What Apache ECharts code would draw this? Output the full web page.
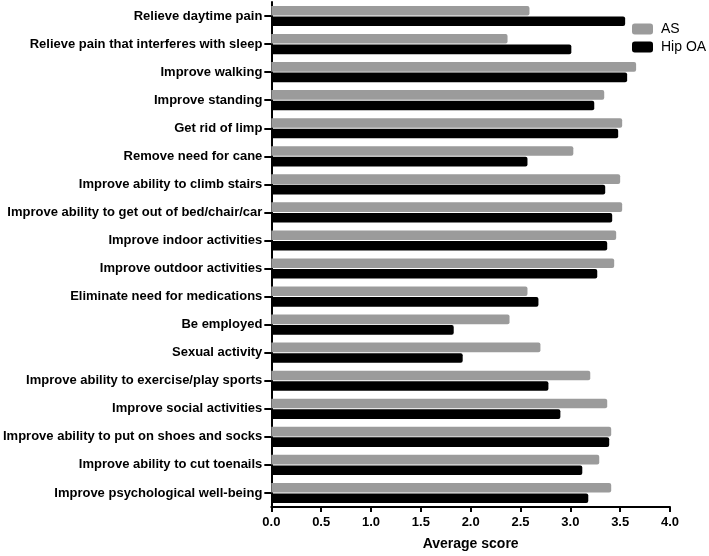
<!DOCTYPE html>
<html>
<head>
<meta charset="utf-8">
<script src="https://cdn.jsdelivr.net/npm/echarts@6/dist/echarts.min.js"></script>
<style>
html,body{margin:0;padding:0;background:#fff;}
#chart{width:709px;height:556px;}
</style>
</head>
<body>
<div id="chart"></div>
<script>
const categories = [
  "Relieve daytime pain",
  "Relieve pain that interferes with sleep",
  "Improve walking",
  "Improve standing",
  "Get rid of limp",
  "Remove need for cane",
  "Improve ability to climb stairs",
  "Improve ability to get out of bed/chair/car",
  "Improve indoor activities",
  "Improve outdoor activities",
  "Eliminate need for medications",
  "Be employed",
  "Sexual activity",
  "Improve ability to exercise/play sports",
  "Improve social activities",
  "Improve ability to put on shoes and socks",
  "Improve ability to cut toenails",
  "Improve psychological well-being"
];
const asValues = [2.59, 2.37, 3.66, 3.34, 3.52, 3.03, 3.50, 3.52, 3.46, 3.44, 2.57, 2.39, 2.70, 3.20, 3.37, 3.41, 3.29, 3.41];
const hipOaValues = [3.55, 3.01, 3.57, 3.24, 3.48, 2.57, 3.35, 3.42, 3.37, 3.27, 2.68, 1.83, 1.92, 2.78, 2.90, 3.39, 3.12, 3.18];
const xTicks = { min: 0, max: 4, interval: 0.5 };

const font = "'Liberation Sans', Arial, Helvetica, sans-serif";
const chart = echarts.init(document.getElementById('chart'), null, { renderer: 'canvas' });
chart.setOption({
  animation: false,
  backgroundColor: '#ffffff',
  textStyle: { fontFamily: font },
  legend: {
    orient: 'vertical',
    left: 632,
    top: 22,
    padding: 0,
    itemWidth: 21,
    itemHeight: 11,
    itemGap: 4,
    icon: 'roundRect',
    textStyle: { fontFamily: font, fontSize: 14, color: '#000', padding: [0, 0, 0, 3] },
    data: ['AS', 'Hip OA']
  },
  grid: { left: 270, right: 39, top: 2, bottom: 47, containLabel: false },
  xAxis: {
    type: 'value',
    min: xTicks.min,
    max: xTicks.max,
    interval: xTicks.interval,
    name: 'Average score',
    nameLocation: 'middle',
    nameGap: 30,
    nameTextStyle: { fontFamily: font, fontSize: 14, fontWeight: 'bold', color: '#000' },
    axisLine: { show: true, lineStyle: { color: '#000', width: 2 } },
    axisTick: { show: true, length: 5, lineStyle: { color: '#000', width: 2 } },
    axisLabel: {
      fontFamily: font, fontSize: 13, fontWeight: 'bold', color: '#000', margin: 9,
      formatter: v => v.toFixed(1)
    },
    splitLine: { show: false }
  },
  yAxis: {
    type: 'category',
    inverse: true,
    data: categories,
    axisLine: { show: true, lineStyle: { color: '#000', width: 2 } },
    axisTick: { show: true, length: 7, alignWithLabel: true, lineStyle: { color: '#000', width: 2 } },
    axisLabel: { fontFamily: font, fontSize: 13, fontWeight: 'bold', color: '#000', margin: 9, interval: 0 }
  },
  series: [
    {
      name: 'AS',
      type: 'bar',
      data: asValues,
      barWidth: 9.6,
      barGap: '10%',
      itemStyle: { color: '#9b9b9b', borderRadius: [0, 2, 2, 0] }
    },
    {
      name: 'Hip OA',
      type: 'bar',
      data: hipOaValues,
      barWidth: 9.6,
      barGap: '10%',
      itemStyle: { color: '#000000', borderRadius: [0, 2, 2, 0] }
    }
  ]
});
</script>
</body>
</html>
